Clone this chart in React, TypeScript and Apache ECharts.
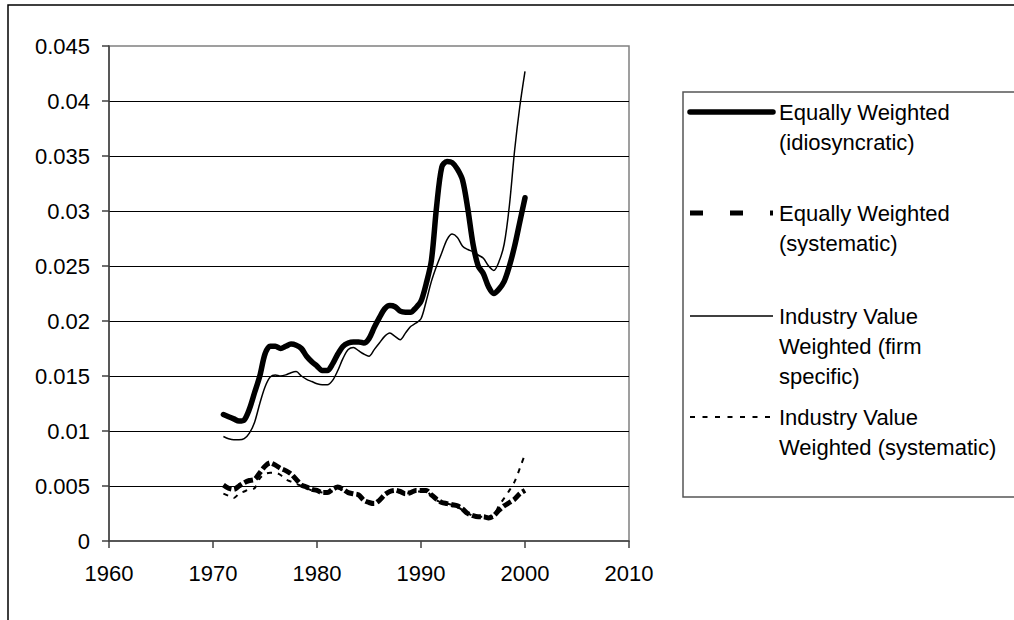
import React, { useEffect, useRef } from "react";
import * as echarts from "echarts";

const years: number[] = [
  1971, 1971.5, 1972, 1972.5, 1973, 1973.5, 1974, 1974.5, 1975, 1975.5,
  1976, 1976.5, 1977, 1977.5, 1978, 1978.5, 1979, 1979.5, 1980, 1980.5,
  1981, 1981.5, 1982, 1982.5, 1983, 1983.5, 1984, 1984.5, 1985, 1985.5,
  1986, 1986.5, 1987, 1987.5, 1988, 1988.5, 1989, 1989.5, 1990, 1990.5,
  1991, 1991.5, 1992, 1992.5, 1993, 1993.5, 1994, 1994.5, 1995, 1995.5,
  1996, 1996.5, 1997, 1997.5, 1998, 1998.5, 1999, 1999.5, 2000,
];

const ewIdiosyncratic: number[] = [
  0.0115, 0.0113, 0.0111, 0.0109, 0.011, 0.012, 0.0135, 0.015, 0.017, 0.0177,
  0.0177, 0.0175, 0.0177, 0.0179, 0.0178, 0.0175, 0.0168, 0.0163, 0.0159, 0.0155,
  0.0155, 0.0161, 0.017, 0.0177, 0.018, 0.0181, 0.0181, 0.018, 0.0184, 0.0194,
  0.0203, 0.0211, 0.0214, 0.0213, 0.0209, 0.0208, 0.0208, 0.0212, 0.0218, 0.0234,
  0.0255, 0.0304, 0.034, 0.0345, 0.0344, 0.0338, 0.0328, 0.0302, 0.027, 0.025,
  0.0243, 0.0231, 0.0225, 0.0229, 0.0236, 0.025, 0.0268, 0.029, 0.0312,
];

const ewSystematic: number[] = [
  0.0051, 0.0048, 0.0047, 0.005, 0.0053, 0.0055, 0.0056, 0.0062, 0.0068, 0.0071,
  0.0069, 0.0066, 0.0064, 0.0061, 0.0056, 0.0051, 0.0049, 0.0047, 0.0046, 0.0044,
  0.0044, 0.0047, 0.0049, 0.0047, 0.0044, 0.0043, 0.0042, 0.0037, 0.0035, 0.0034,
  0.0037, 0.0042, 0.0045, 0.0046, 0.0045, 0.0043, 0.0044, 0.0046, 0.0046, 0.0046,
  0.0042, 0.0038, 0.0035, 0.0034, 0.0033, 0.0032, 0.0029, 0.0025, 0.0023, 0.0022,
  0.0022, 0.0021, 0.0023, 0.0028, 0.0032, 0.0035, 0.0038, 0.0043, 0.0046,
];

const ivwFirmSpecific: number[] = [
  0.0095, 0.0093, 0.0092, 0.0092, 0.0093, 0.0098, 0.0108, 0.0125, 0.014, 0.0149,
  0.0151, 0.015, 0.0151, 0.0153, 0.0154, 0.015, 0.0147, 0.0145, 0.0143, 0.0142,
  0.0142, 0.0146, 0.0155, 0.0166, 0.0174, 0.0176, 0.0173, 0.017, 0.0168, 0.0174,
  0.018, 0.0186, 0.0189, 0.0186, 0.0183, 0.0189, 0.0195, 0.0198, 0.0202, 0.0218,
  0.0236, 0.025, 0.0262, 0.0274, 0.0279, 0.0276, 0.0268, 0.0265, 0.0263, 0.026,
  0.0257, 0.025, 0.0246, 0.0254, 0.027, 0.0305, 0.0355, 0.0395, 0.0427,
];

const ivwSystematic: number[] = [
  0.0043, 0.0041, 0.0039, 0.0043, 0.0045, 0.0047, 0.0048, 0.0057, 0.0061, 0.0062,
  0.0062, 0.006, 0.0056, 0.0054, 0.0052, 0.005, 0.0048, 0.0046, 0.0045, 0.0044,
  0.0043, 0.0046, 0.0048, 0.0046, 0.0044, 0.0042, 0.0041, 0.0037, 0.0035, 0.0034,
  0.0037, 0.0041, 0.0044, 0.0045, 0.0044, 0.0043, 0.0044, 0.0045, 0.0045, 0.0045,
  0.0041, 0.0037, 0.0035, 0.0034, 0.0033, 0.0031, 0.0028, 0.0025, 0.0023, 0.0022,
  0.0022, 0.0021, 0.0024, 0.0032, 0.0039, 0.0046, 0.0054, 0.0066, 0.0079,
];

const seriesNames: string[] = [
  "Equally Weighted\n(idiosyncratic)",
  "Equally Weighted\n(systematic)",
  "Industry Value\nWeighted (firm\nspecific)",
  "Industry Value\nWeighted (systematic)",
];

const xTicks = { min: 1960, max: 2010, interval: 10 };
const yTicks = { min: 0, max: 0.045, interval: 0.005 };

const FONT = "'Liberation Sans', Arial, sans-serif";

const zip = (ys: number[]) => years.map((x, i) => [x, ys[i]]);

export default function App() {
  const ref = useRef<HTMLDivElement>(null);

  useEffect(() => {
    if (!ref.current) return;
    const chart = echarts.init(ref.current, null, { renderer: "svg" });

    const legendX = 690;
    const legendTextX = 779;
    const legendRows = [112, 213, 316, 417];
    const legendStyles = [
      { lineWidth: 5.5, lineDash: null as any, cap: "round" },
      { lineWidth: 5, lineDash: [13, 27], cap: "butt" },
      { lineWidth: 1.5, lineDash: null as any, cap: "butt" },
      { lineWidth: 2, lineDash: [5, 7.5], cap: "butt" },
    ];

    const graphics: any[] = [
      {
        type: "rect",
        shape: { x: 8, y: 5, width: 1200, height: 800 },
        style: { fill: "none", stroke: "#000", lineWidth: 1.5 },
        silent: true,
      },
      {
        type: "rect",
        shape: { x: 683, y: 92, width: 400, height: 405 },
        style: { fill: "none", stroke: "#555", lineWidth: 1.5 },
        silent: true,
      },
    ];
    legendRows.forEach((y, i) => {
      const st = legendStyles[i];
      graphics.push({
        type: "line",
        shape: { x1: legendX, y1: y, x2: legendX + 83, y2: y },
        style: {
          stroke: "#000",
          lineWidth: st.lineWidth,
          lineDash: st.lineDash,
          lineCap: st.cap,
        },
        silent: true,
      });
      graphics.push({
        type: "text",
        x: legendTextX,
        y: y - 15,
        style: {
          text: seriesNames[i],
          font: `22px ${FONT}`,
          fill: "#000",
          lineHeight: 30,
          verticalAlign: "top",
          align: "left",
        },
        silent: true,
      });
    });

    chart.setOption({
      animation: false,
      backgroundColor: "#fff",
      grid: {
        left: 109,
        right: 1014 - 629,
        top: 46,
        bottom: 620 - 541,
        show: true,
        borderColor: "#808080",
        borderWidth: 1.5,
        backgroundColor: "transparent",
      },
      xAxis: {
        type: "value",
        min: xTicks.min,
        max: xTicks.max,
        interval: xTicks.interval,
        axisLine: { show: true, lineStyle: { color: "#404040", width: 1.5 } },
        axisTick: { show: true, inside: false, length: 7, lineStyle: { color: "#404040", width: 1.5 } },
        splitLine: { show: false },
        axisLabel: {
          margin: 21,
          color: "#000",
          fontFamily: FONT,
          fontSize: 22,
          formatter: (v: number) => String(v),
        },
      },
      yAxis: {
        type: "value",
        min: yTicks.min,
        max: yTicks.max,
        interval: yTicks.interval,
        axisLine: { show: true, lineStyle: { color: "#404040", width: 1.5 } },
        axisTick: { show: true, inside: false, length: 7, lineStyle: { color: "#404040", width: 1.5 } },
        splitLine: {
          show: true,
          showMinLine: false,
          showMaxLine: false,
          lineStyle: { color: "#000", width: 1 },
        },
        axisLabel: {
          margin: 19,
          color: "#000",
          fontFamily: FONT,
          fontSize: 22,
          formatter: (v: number) => String(parseFloat(v.toFixed(4))),
        },
      },
      series: [
        {
          name: seriesNames[0],
          type: "line",
          data: zip(ewIdiosyncratic),
          symbol: "none",
          smooth: 0.3,
          lineStyle: { color: "#000", width: 5.5, cap: "round", join: "round" },
          z: 4,
        },
        {
          name: seriesNames[1],
          type: "line",
          data: zip(ewSystematic),
          symbol: "none",
          smooth: 0.3,
          lineStyle: { color: "#000", width: 5, type: [9, 3] },
          z: 3,
        },
        {
          name: seriesNames[2],
          type: "line",
          data: zip(ivwFirmSpecific),
          symbol: "none",
          smooth: 0.3,
          lineStyle: { color: "#000", width: 1.5 },
          z: 5,
        },
        {
          name: seriesNames[3],
          type: "line",
          data: zip(ivwSystematic),
          symbol: "none",
          smooth: 0.3,
          lineStyle: { color: "#000", width: 2, type: [5, 6] },
          z: 2,
        },
      ],
      graphic: graphics,
    });

    return () => chart.dispose();
  }, []);

  return (
    <div
      ref={ref}
      style={{ position: "fixed", left: 0, top: 0, width: 1014, height: 620, background: "#fff" }}
    />
  );
}
